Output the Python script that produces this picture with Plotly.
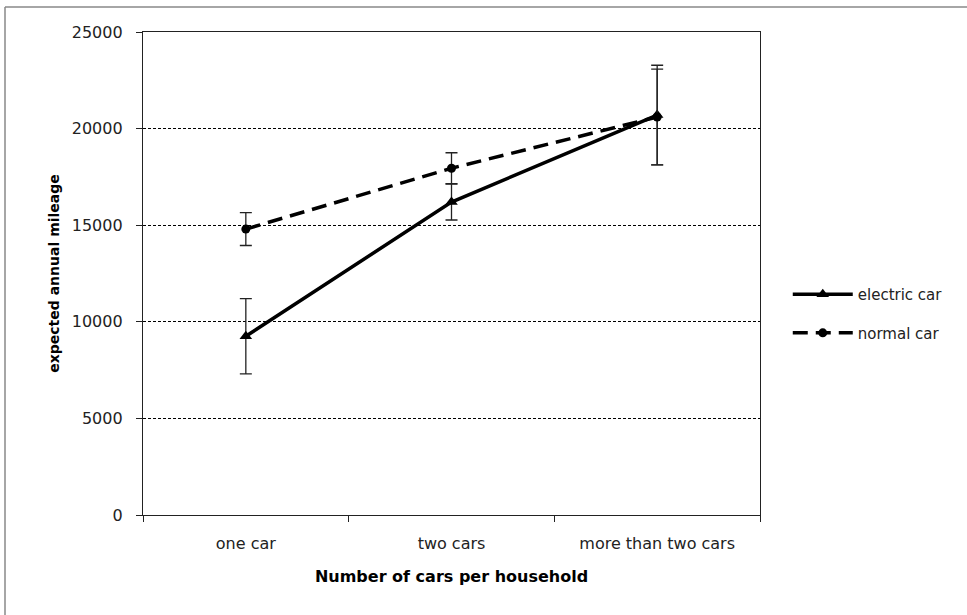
import plotly.graph_objects as go

categories = ["one car", "two cars", "more than two cars"]
electric = [9250, 16200, 20700]
electric_err = [1950, 930, 2580]
normal = [14800, 17950, 20600]
normal_err = [850, 800, 2480]
y_ticks = [0, 5000, 10000, 15000, 20000, 25000]
y_labels = ["0", "5000", "10000", "15000", "20000", "25000"]

FONT = "DejaVu Sans"

fig = go.Figure()
fig.add_trace(go.Scatter(
    x=categories, y=electric, name="electric car", mode="lines+markers",
    line=dict(color="black", width=3.5),
    marker=dict(symbol="triangle-up", size=11, color="black"),
    error_y=dict(type="data", array=electric_err, visible=True,
                 color="#222", thickness=1.3, width=6),
    legendgroup="a",
))
fig.add_trace(go.Scatter(
    x=categories, y=normal, name="normal car", mode="lines+markers",
    line=dict(color="black", width=3.5, dash="15px,8px"),
    marker=dict(symbol="circle", size=9, color="black"),
    error_y=dict(type="data", array=normal_err, visible=True,
                 color="#222", thickness=1.3, width=6),
    legendgroup="b",
))

fig.update_layout(
    width=967, height=615,
    margin=dict(l=143, r=207, t=32, b=100),
    paper_bgcolor="white", plot_bgcolor="white",
    font=dict(family=FONT, size=15, color="black"),
    showlegend=True,
    legend=dict(x=1.045, y=0.417, xanchor="left", yanchor="middle",
                font=dict(family=FONT, size=15, color="#222"),
                itemwidth=60, tracegroupgap=16, bgcolor="rgba(0,0,0,0)"),
    xaxis=dict(
        type="category", range=[-0.5, 2.5],
        showline=True, linecolor="#222", linewidth=1.3, mirror=True,
        ticks="outside", ticklen=6, tickcolor="#222", tickson="boundaries",
        showgrid=False, ticklabelstandoff=14,
        tickfont=dict(family=FONT, size=16, color="#222"),
        title=dict(text="<b>Number of cars per household</b>",
                   font=dict(family=FONT, size=16, color="black"),
                   standoff=18),
    ),
    yaxis=dict(
        range=[0, 25000], tickvals=y_ticks, ticktext=y_labels,
        showline=True, linecolor="#222", linewidth=1.3, mirror=True,
        ticks="outside", ticklen=6, tickcolor="#222",
        showgrid=True, gridcolor="black", gridwidth=1, griddash="3px,2px",
        zeroline=False, ticklabelstandoff=10,
        tickfont=dict(family=FONT, size=16, color="#222"),
        title=dict(text="<b>expected annual mileage</b>",
                   font=dict(family=FONT, size=14, color="black"),
                   standoff=8),
    ),
    shapes=[
        dict(type="line", xref="paper", yref="paper",
             x0=(5 - 143) / 617, x1=(967 - 143) / 617,
             y0=(515 - 7) / 483, y1=(515 - 7) / 483,
             line=dict(color="#888", width=1.5)),
        dict(type="line", xref="paper", yref="paper",
             x0=(5 - 143) / 617, x1=(5 - 143) / 617,
             y0=(515 - 615) / 483, y1=(515 - 7) / 483,
             line=dict(color="#888", width=1.5)),
    ],
)

fig.write_html("out.html", config={"displayModeBar": False},
               post_script="document.body.style.margin='0';")
